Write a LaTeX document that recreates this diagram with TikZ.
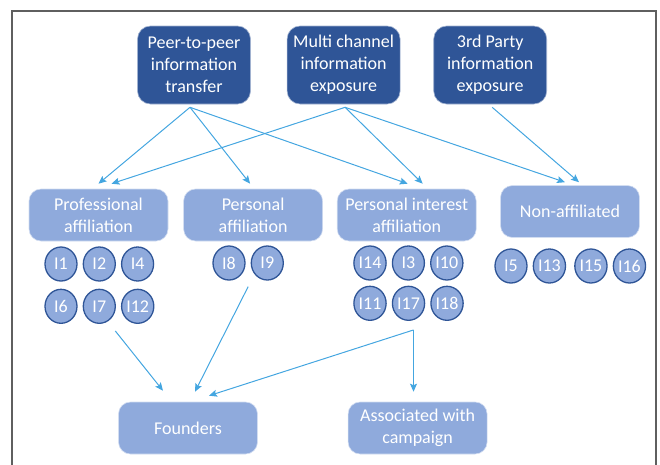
\documentclass[tikz,border=0pt]{standalone}
\usepackage{fontspec}
\setmainfont{Carlito}
\usepackage{xcolor}
\usepackage{tikz}
\usetikzlibrary{arrows.meta,positioning,calc,shapes.geometric}
\definecolor{srcblue}{HTML}{2F5597}
\definecolor{grpblue}{HTML}{8FAADC}
\definecolor{arrblue}{HTML}{44A6E0}
\definecolor{framegray}{HTML}{5F5F5F}

\begin{document}
\begin{tikzpicture}[x=1pt, y=-1pt,
  txt/.style={font=\fontsize{18}{22}\selectfont, text=white, align=center},
  src/.style={txt, fill=srcblue, draw=srcblue!45!white, line width=0.6pt,
              rounded corners=13pt, minimum width=113pt, minimum height=78pt, inner sep=1pt},
  grp/.style={txt, fill=grpblue, draw=grpblue!40!white, line width=0.6pt,
              rounded corners=12pt, minimum width=139pt, minimum height=52pt, inner sep=1pt},
  idot/.style={ellipse, fill=grpblue, draw=srcblue, line width=1.3pt,
               minimum width=32pt, minimum height=34pt, inner sep=0pt,
               font=\fontsize{18}{20}\selectfont, text=white},
  arr/.style={-{Stealth[length=8pt, width=7pt, inset=1.5pt]}, arrblue, line width=1pt}]
  \useasboundingbox (0,0) rectangle (660,464);
  \draw[framegray, line width=1.4pt] (12,466) -- (12,11) -- (656,11) -- (656,466);

  % information sources
  \node[src] (peer) at (194,65) {Peer-to-peer\\information\\transfer};
  \node[src, right=36pt of peer] (multi) {Multi channel\\information\\exposure};
  \node[src, right=33pt of multi] (third) {3rd Party\\information\\exposure};

  % affiliation groups
  \node[grp] (prof) at (98.5,215) {Professional\\affiliation};
  \node[grp, right=15pt of prof] (pers) {Personal\\affiliation};
  \node[grp, right=14pt of pers] (pint) {Personal interest\\affiliation};
  \node[grp] (nonaff) at (570,211.5) {Non-affiliated};

  % interviewees
  \node[idot] (i1) at (61,264) {I1};
  \node[idot, right=5pt of i1] (i2) {I2};
  \node[idot, right=5pt of i2] (i4) {I4};
  \node[idot, below=7pt of i1] (i6) {I6};
  \node[idot, right=5pt of i6] (i7) {I7};
  \node[idot, right=5pt of i7] (i12) {I12};

  \node[idot] (i8) at (229,263) {I8};
  \node[idot, right=5pt of i8] (i9) {I9};

  \node[idot] (i14) at (370,263) {I14};
  \node[idot, right=5pt of i14] (i3) {I3};
  \node[idot, right=5pt of i3] (i10) {I10};
  \node[idot, below=5pt of i14] (i11) {I11};
  \node[idot, right=5pt of i11] (i17) {I17};
  \node[idot, right=5pt of i17] (i18) {I18};

  \node[idot] (i5) at (511,266) {I5};
  \node[idot, right=5pt of i5] (i13) {I13};
  \node[idot, right=8pt of i13] (i15) {I15};
  \node[idot, right=5pt of i15] (i16) {I16};

  % roles
  \node[grp] (found) at (188,428) {Founders};
  \node[grp, right=90pt of found] (assoc) {Associated with\\campaign};

  \coordinate (pout) at ($(peer.south)+(-4,3)$);
  \coordinate (mout) at ($(multi.south)+(1.5,3)$);
  \coordinate (tout) at ($(third.south)+(2,3)$);
  \coordinate (pjoin) at ($(i17.south)+(5,9)$);

  \draw[arr] (pout) -- ($(prof.north)+(0,-5)$);
  \draw[arr] (pout) -- ($(pers.north)+(-3,-5)$);
  \draw[arr] (pout) -- ($(pint.north)+(1,-5)$);
  \draw[arr] (mout) -- ($(prof.north)+(13,-5)$);
  \draw[arr] (mout) -- ($(pint.north)+(16,-5)$);
  \draw[arr] (mout) -- ($(nonaff.north)+(-5,-3)$);
  \draw[arr] (tout) -- ($(nonaff.north)+(9,-3)$);

  \draw[arr] ($(i7.south)+(16,7)$) -- ($(found.north)+(-25,-11)$);
  \draw[arr] ($(i8.south)!0.5!(i9.south)+(0,6)$) -- ($(found.north)+(7,-10)$);
  \draw[arr] (pjoin) -- ($(found.north)+(21,-6)$);
  \draw[arr, shorten >=10pt] (pjoin) -- (pjoin |- assoc.north);
\end{tikzpicture}
\end{document}
